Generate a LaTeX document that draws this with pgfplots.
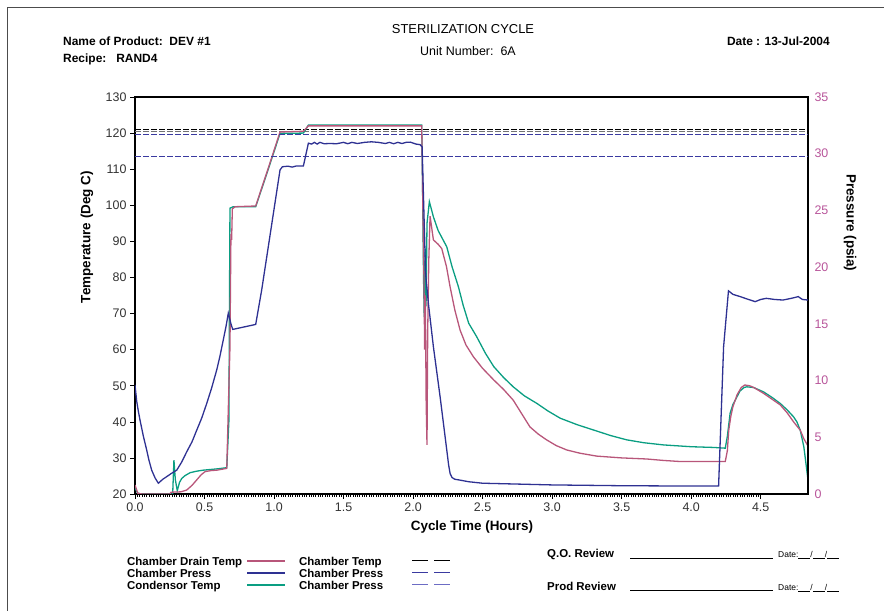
\documentclass[border=0pt]{standalone}
\usepackage{fontspec}
\setmainfont{Liberation Sans}
\usepackage{pgfplots}
\pgfplotsset{compat=1.18}
\definecolor{cdrain}{HTML}{B8567A}
\definecolor{cpress}{HTML}{2E3192}
\definecolor{ccond}{HTML}{0A9E82}
\definecolor{climit}{HTML}{3A3AA0}
\definecolor{climtwo}{HTML}{6C6CC4}
\definecolor{cpsia}{HTML}{B8559A}
\definecolor{ctick}{HTML}{333333}

\begin{document}
\begin{tikzpicture}
\useasboundingbox (0bp,0bp) rectangle (884bp,611bp);

\begin{axis}[
    at={(135bp,117bp)}, anchor=south west,
    scale only axis, width=673bp, height=397bp,
    xmin=0, xmax=4.84, ymin=20, ymax=130,
    xtick={0,0.5,1,1.5,2,2.5,3,3.5,4,4.5},
    ytick={20,30,40,50,60,70,80,90,100,110,120,130},
    minor x tick num=29,
    xtick pos=bottom, ytick pos=left,
    tick align=outside,
    major tick length=5bp, minor tick length=3bp,
    tick style={black, line width=0.6bp},
    axis line style={black, line width=1.2bp},
    ticklabel style={font=\fontsize{12.5}{14}\selectfont, text=ctick},
    /pgf/number format/assume math mode=true,
    xticklabel style={/pgf/number format/.cd, fixed, fixed zerofill, precision=1},
    xlabel={\bfseries Cycle Time (Hours)},
    xlabel style={font=\fontsize{13.5}{15}\selectfont, at={(axis description cs:0.5007,-0.083)}, anchor=center},
    ylabel={\bfseries Temperature (Deg C)},
    ylabel style={font=\fontsize{13.5}{15}\selectfont, at={(axis description cs:-0.0713,0.647)}, anchor=center},
    clip=true,
]
% Chamber Temp limit (black dashed)
\addplot[black, line width=1bp, dash pattern=on 6bp off 2bp] coordinates {(0,121.0) (4.84,121.0)};
\addplot[black!55, line width=0.8bp, dash pattern=on 6bp off 2bp] coordinates {(0,120.5) (4.84,120.5)};
% Condensor Temp
\addplot[ccond, line width=1.3bp] coordinates {
(0,21.6)(0.02,20.2)(0.05,20)(0.271,20)(0.28,29.4)(0.29,24)(0.304,20.9)(0.32,23.2)(0.336,24.3)
(0.36,25.1)(0.396,25.9)(0.44,26.3)(0.49,26.6)(0.60,27.0)(0.66,27.3)(0.675,40)(0.683,99.2)(0.707,99.6)
(0.868,99.6)(0.95,109)(1.043,119.9)(1.211,120)(1.247,122.2)(2.062,122.2)(2.068,105)
(2.075,80)(2.08,69)(2.087,88)(2.093,72)(2.10,95)(2.117,101)(2.146,96.8)(2.18,93)(2.242,88.5)
(2.28,83)(2.326,77.4)(2.36,72.3)(2.40,67.3)(2.457,63.6)(2.52,59)(2.58,55.3)(2.65,52.3)
(2.72,49.7)(2.80,47.2)(2.89,45.1)(2.97,43)(3.058,41.0)(3.18,39.2)(3.30,37.7)(3.42,36.2)
(3.537,35.0)(3.66,34.2)(3.80,33.6)(4.0,33.1)(4.16,32.9)(4.245,32.7)(4.26,36)(4.28,42.4)
(4.30,44.8)(4.317,46.0)(4.35,48.5)(4.38,49.5)(4.40,49.7)(4.45,49.5)(4.52,48.3)(4.58,46.8)
(4.64,45.1)(4.69,43.3)(4.736,41.4)(4.76,40)(4.784,37.7)(4.81,33.1)(4.84,23.9)
};
% Chamber Drain Temp
\addplot[cdrain, line width=1.3bp] coordinates {
(0,22.5)(0.02,20.2)(0.05,20)(0.25,20)(0.26,20.5)(0.33,20.6)(0.372,21.1)(0.41,22.4)(0.444,23.9)
(0.475,25.3)(0.504,26.2)(0.55,26.5)(0.588,26.6)(0.66,27.1)(0.672,45)(0.683,60.8)(0.69,92)(0.695,90.4)
(0.70,99)(0.72,99.6)(0.868,99.8)(0.95,109.3)(1.043,120.3)(1.211,120.5)(1.247,122.0)
(2.062,122.0)(2.07,100)(2.078,80)(2.083,60)(2.088,75)(2.094,45)(2.10,33.6)(2.105,65)
(2.113,85)(2.122,97)(2.146,90.4)(2.18,89.2)(2.206,88.0)(2.24,83)(2.266,77.4)(2.30,71)
(2.338,65.4)(2.38,61.3)(2.434,58)(2.50,54.8)(2.58,51.6)(2.65,49.0)(2.72,46.0)(2.78,42.3)
(2.84,38.6)(2.90,36.6)(2.96,35.0)(3.03,33.4)(3.105,32.2)(3.2,31.3)(3.32,30.5)(3.5,30.0)
(3.68,29.7)(3.8,29.3)(3.92,29.0)(4.245,29.0)(4.26,32)(4.27,37.7)(4.285,41.5)(4.30,44.2)
(4.33,47.5)(4.36,49.5)(4.385,50.2)(4.42,50)(4.45,49.5)(4.52,47.9)(4.58,46.3)(4.64,44.7)
(4.69,42.5)(4.736,40.0)(4.784,37.7)(4.81,35.3)(4.84,33.3)
};
\end{axis}

\begin{axis}[
    at={(135bp,117bp)}, anchor=south west,
    scale only axis, width=673bp, height=397bp,
    xmin=0, xmax=4.84, ymin=0, ymax=35,
    axis x line=none, axis y line*=right,
    ytick={0,5,10,15,20,25,30,35},
    major tick length=0bp,
    axis line style={black, line width=1.2bp},
    ticklabel style={font=\fontsize{12.5}{14}\selectfont, text=cpsia, xshift=3bp},
    /pgf/number format/assume math mode=true,
    ylabel={\bfseries Pressure (psia)},
    ylabel style={font=\fontsize{13.5}{15}\selectfont, rotate=180, at={(axis description cs:1.0624,0.683)}, anchor=center},
]
% Chamber Press limits
\addplot[climit, line width=1bp, dash pattern=on 6bp off 2bp] coordinates {(0,31.7) (4.84,31.7)};
\addplot[climit, line width=1bp, dash pattern=on 6bp off 2bp] coordinates {(0,29.71) (4.84,29.71)};
% Chamber Press
\addplot[cpress, line width=1.3bp] coordinates {
(0,9.61)(0.012,8.2)(0.024,7.3)(0.036,6.52)(0.06,5.1)(0.084,3.88)(0.10,3.0)(0.12,2.10)
(0.145,1.4)(0.168,0.95)(0.2,1.3)(0.228,1.53)(0.26,1.8)(0.30,2.10)(0.335,2.8)(0.372,3.72)
(0.41,4.6)(0.444,5.63)(0.48,6.7)(0.516,7.99)(0.55,9.3)(0.588,10.95)(0.61,12.1)(0.635,13.59)
(0.655,14.8)(0.671,15.94)(0.69,15.0)
(0.703,14.51)(0.868,14.95)(0.911,17.98)(1.043,28.57)(1.06,28.85)(1.10,28.9)(1.13,28.82)
(1.16,28.92)(1.211,28.92)(1.247,30.93)(1.27,30.85)(1.29,31.0)(1.31,30.85)(1.33,31.0)
(1.36,30.88)(1.40,30.9)(1.45,30.88)(1.50,31.0)(1.53,30.88)(1.56,31.0)(1.60,30.9)
(1.65,31.0)(1.70,31.05)(1.75,31.0)(1.80,30.9)(1.83,31.0)(1.86,30.88)(1.89,31.0)
(1.92,30.9)(1.95,31.0)(1.98,31.02)(2.02,30.85)(2.05,30.8)(2.065,30.6)(2.07,28.3)
(2.09,19.41)(2.11,16.80)(2.146,12.98)(2.194,8.59)(2.242,3.88)(2.255,2.6)(2.266,1.81)
(2.28,1.45)(2.30,1.30)(2.33,1.24)(2.40,1.08)(2.5,0.95)(3.0,0.80)(3.5,0.73)(4.0,0.70)(4.197,0.70)
(4.233,12.98)(4.268,17.91)(4.30,17.6)(4.353,17.4)(4.40,17.2)(4.46,16.96)(4.50,17.15)
(4.54,17.25)(4.60,17.15)(4.66,17.1)(4.72,17.25)(4.77,17.4)(4.80,17.15)(4.84,17.1)
};
\end{axis}

\begin{scope}[x=1bp,y=1bp]
\draw[black!70, line width=1bp] (7,0) -- (7,603) -- (884,603);
% header
\node[anchor=base, font=\fontsize{13}{15}\selectfont] at (463,577) {STERILIZATION CYCLE};
\node[anchor=base, font=\fontsize{12.5}{15}\selectfont] at (468,555) {Unit Number:\ \ 6A};
\node[anchor=base west, inner sep=0, font=\bfseries\fontsize{12}{14}\selectfont] at (63,565) {Name of Product:\ \ DEV \#1};
\node[anchor=base west, inner sep=0, font=\bfseries\fontsize{12}{14}\selectfont] at (63,548) {Recipe:\ \ \ RAND4};
\node[anchor=base east, inner sep=0, font=\bfseries\fontsize{12}{14}\selectfont] at (830,565) {Date : 13-Jul-2004};
% legend
\begin{scope}[font=\bfseries\fontsize{11.5}{13}\selectfont]
\node[anchor=base west, inner sep=0] at (127,46) {Chamber Drain Temp};
\node[anchor=base west, inner sep=0] at (127,34) {Chamber Press};
\node[anchor=base west, inner sep=0] at (127,22) {Condensor Temp};
\node[anchor=base west, inner sep=0] at (299,46) {Chamber Temp};
\node[anchor=base west, inner sep=0] at (299,34) {Chamber Press};
\node[anchor=base west, inner sep=0] at (299,22) {Chamber Press};
\node[anchor=base west, inner sep=0] at (547,54) {Q.O. Review};
\node[anchor=base west, inner sep=0] at (547,21) {Prod Review};
\end{scope}
\draw[cdrain, line width=1.5bp] (247,50) -- (285,50);
\draw[cpress, line width=1.5bp] (247,38) -- (285,38);
\draw[ccond, line width=1.5bp] (247,26) -- (285,26);
\draw[black, line width=1bp, dash pattern=on 16bp off 6bp] (412,50) -- (450,50);
\draw[climit, line width=1bp, dash pattern=on 16bp off 6bp] (412,38) -- (450,38);
\draw[climtwo, line width=1bp, dash pattern=on 16bp off 6bp] (412,26) -- (450,26);
\draw[black, line width=0.8bp] (630,53) -- (773,53);
\draw[black, line width=0.8bp] (630,21) -- (773,21);
\node[anchor=base west, inner sep=0, font=\fontsize{8.5}{9}\selectfont] at (778,54) {Date:\rule[-1bp]{12bp}{0.5bp}/\rule[-1bp]{12bp}{0.5bp}/\rule[-1bp]{12bp}{0.5bp}};
\node[anchor=base west, inner sep=0, font=\fontsize{8.5}{9}\selectfont] at (778,21) {Date:\rule[-1bp]{12bp}{0.5bp}/\rule[-1bp]{12bp}{0.5bp}/\rule[-1bp]{12bp}{0.5bp}};
\end{scope}
\end{tikzpicture}
\end{document}
